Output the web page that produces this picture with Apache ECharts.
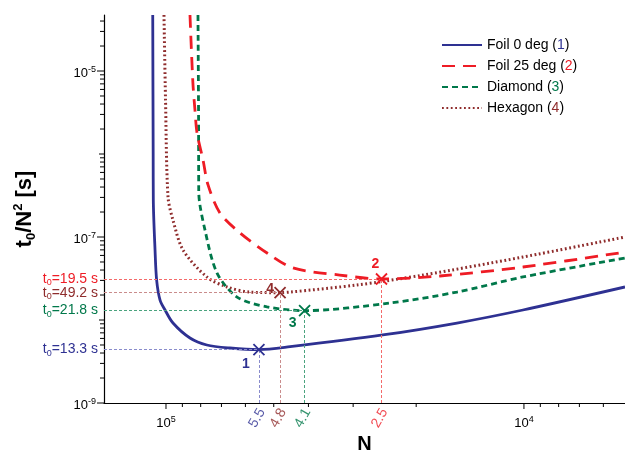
<!DOCTYPE html>
<html>
<head>
<meta charset="utf-8">
<script src="https://cdn.jsdelivr.net/npm/echarts@6/dist/echarts.min.js"></script>
<style>
html, body { margin: 0; padding: 0; background: #fff; }
#main { width: 625px; height: 453px; }
</style>
</head>
<body>
<div id="main"></div>
<script>
// axis ranges
var N_MIN = 5.22e3, N_MAX = 1.49e5;
var T_MIN = 1e-9, T_MAX = 4.73e-5;

// curves, [N, t0/N^2]
var foil0 = [[1.089e5, 4.73e-5], [1.086e5, 1.0e-6], [1.085e5, 2.8e-7], [1.073e5, 6.97e-8], [1.062e5, 3.03e-8],
    [1.039e5, 1.74e-8], [1.006e5, 1.32e-8], [9.56e4, 9.2e-9], [8.57e4, 6.07e-9], [7.69e4, 5.0e-9],
    [6.63e4, 4.6e-9], [5.5e4, 4.40e-9], [4.50e4, 4.77e-9], [2.48e4, 6.6e-9], [1.539e4, 9.2e-9],
    [1.0065e4, 1.32e-8], [5.22e3, 2.50e-8]];
var foil25 = [[8.57e4, 4.73e-5], [8.41e4, 7.16e-6], [8.30e4, 3.39e-6], [8.19e4, 1.79e-6], [7.88e4, 8.47e-7],
    [7.63e4, 4.24e-7], [7.07e4, 1.95e-7], [6.21e4, 1.12e-7], [5.22e4, 6.41e-8], [4.42e4, 4.24e-8],
    [3.27e4, 3.48e-8], [2.5e4, 3.12e-8], [1.717e4, 3.39e-8], [1.0065e4, 4.35e-8], [5.22e3, 6.59e-8]];
var diamond = [[8.14e4, 4.73e-5], [8.11e4, 3.0e-6], [8.10e4, 3.5e-7], [7.78e4, 1.21e-7], [7.20e4, 3.68e-8],
    [6.33e4, 1.89e-8], [5.22e4, 1.44e-8], [4.1e4, 1.297e-8], [2.37e4, 1.60e-8], [1.539e4, 2.17e-8],
    [1.0065e4, 3.30e-8], [5.22e3, 5.58e-8]];
var hexagon = [[1.013e5, 4.73e-5], [1.003e5, 4.48e-6], [9.87e4, 3.03e-7], [9.56e4, 1.60e-7], [8.96e4, 6.97e-8],
    [7.69e4, 3.30e-8], [6.75e4, 2.50e-8], [5.83e4, 2.17e-8], [4.8e4, 2.135e-8], [4.50e4, 2.17e-8],
    [2.93e4, 2.64e-8], [1.915e4, 3.48e-8], [1.0065e4, 5.74e-8], [5.22e3, 1.0e-7]];

// optimum of each curve, in the order foil0, foil25, diamond, hexagon
var seriesNames = ['Foil 0 deg', 'Foil 25 deg', 'Diamond', 'Hexagon'];
var optN = [5.5e4, 2.5e4, 4.1e4, 4.8e4];
var optT = [4.40e-9, 3.12e-8, 1.297e-8, 2.135e-8];
var optT0 = ['13.3', '19.5', '21.8', '49.2'];
var optNLabel = ['5.5', '2.5', '4.1', '4.8'];

// tick values
var xMajorTicks = [1e4, 1e5];
var xMinorTicks = [6e3, 7e3, 8e3, 9e3, 2e4, 3e4, 4e4, 5e4, 6e4, 7e4, 8e4, 9e4];
var yMajorTicks = [1e-9, 1e-7, 1e-5];
var yMidTicks = [1e-8, 1e-6];
var yMantissa = [2, 3, 4, 5, 6, 7, 8, 9];
var yDecades = [1e-9, 1e-8, 1e-7, 1e-6, 1e-5];

var colors = ['#2e3192', '#ee1c25', '#00784a', '#8f2c2c'];
var guideColors = ['#8a8ccc', '#f36a6a', '#4aa37e', '#c98c8c'];
var FONT = 'Liberation Sans, Arial, sans-serif';

var yMinorTicks = [];
yDecades.forEach(function (d) {
    yMantissa.forEach(function (m) {
        if (m * d <= T_MAX) yMinorTicks.push(m * d);
    });
});

function powLabel(v, onlyOdd) {
    var l = Math.log10(v), e = Math.round(l);
    if (Math.abs(l - e) > 1e-6) return '';
    if (onlyOdd && e % 2 === 0) return '';
    return '{b|10}{s|' + e + '}';
}

var powRich = {
    b: { fontSize: 13, color: '#000', fontFamily: FONT, lineHeight: 16 },
    s: { fontSize: 9, color: '#000', fontFamily: FONT, verticalAlign: 'top', lineHeight: 10, padding: [0, 0, 6, 0] }
};

function tickSeries(values, onX, len) {
    return {
        type: 'custom',
        silent: true,
        clip: false,
        data: values.map(function (v) { return onX ? [v, T_MIN] : [N_MAX, v]; }),
        renderItem: function (params, api) {
            var p = api.coord([api.value(0), api.value(1)]);
            return {
                type: 'line',
                shape: onX ? { x1: p[0], y1: p[1], x2: p[0], y2: p[1] + len }
                           : { x1: p[0], y1: p[1], x2: p[0] - len, y2: p[1] },
                style: { stroke: '#000', lineWidth: 1 }
            };
        }
    };
}

function curveSeries(i, data, width, lineType, labelOffset) {
    return {
        name: seriesNames[i],
        type: 'line',
        data: data,
        symbol: 'none',
        smooth: 0.3,
        silent: true,
        lineStyle: { color: colors[i], width: width, type: lineType },
        itemStyle: { color: colors[i] },
        markLine: {
            silent: true,
            symbol: 'none',
            lineStyle: { color: guideColors[i], width: 1, type: [3, 2] },
            label: {
                show: true,
                position: 'start',
                distance: 6,
                formatter: '{t|t}{u|0}{t|=' + optT0[i] + ' s}',
                rich: {
                    t: { fontSize: 14, color: colors[i], fontFamily: FONT, lineHeight: 16 },
                    u: { fontSize: 9, color: colors[i], fontFamily: FONT, verticalAlign: 'bottom', lineHeight: 10, padding: [6, 0, 0, 0] }
                }
            },
            data: [
                [{ coord: [N_MAX, optT[i]] }, { coord: [optN[i], optT[i]] }],
                [{ coord: [optN[i], T_MIN], label: { show: false } }, { coord: [optN[i], optT[i]], label: { show: false } }]
            ]
        },
        markPoint: {
            silent: true,
            symbol: 'path://M0,0L10,10M10,0L0,10',
            symbolSize: 11,
            itemStyle: { color: 'rgba(0,0,0,0)', borderColor: colors[i], borderWidth: 1.8 },
            label: {
                show: true,
                position: 'inside',
                offset: labelOffset,
                formatter: String(i + 1),
                color: colors[i],
                fontSize: 14,
                fontWeight: 'bold',
                fontFamily: FONT
            },
            data: [{ coord: [optN[i], optT[i]] }]
        }
    };
}

var legendRich = { base: { fontSize: 14, color: '#000', fontFamily: FONT } };
colors.forEach(function (c, i) {
    legendRich['c' + i] = { fontSize: 14, color: c, fontFamily: FONT };
});

var myChart = echarts.init(document.getElementById('main'));
var option = {
    animation: false,
    textStyle: { fontFamily: FONT },
    grid: { left: 104, right: 0, top: 15, bottom: 50, outerBoundsMode: 'none', containLabel: false },
    legend: {
        orient: 'vertical',
        left: 441,
        top: 38,
        padding: 0,
        itemWidth: 40,
        itemHeight: 14,
        itemGap: 7,
        data: seriesNames,
        itemStyle: { opacity: 0 },
        formatter: function (name) {
            var i = seriesNames.indexOf(name);
            return '{base|' + name + ' (}{c' + i + '|' + (i + 1) + '}{base|)}';
        },
        textStyle: { fontSize: 14, color: '#000', rich: legendRich }
    },
    xAxis: {
        type: 'log',
        logBase: 10,
        inverse: true,
        min: N_MIN,
        max: N_MAX,
        name: 'N',
        nameLocation: 'middle',
        nameGap: 30,
        nameTextStyle: { fontSize: 20, fontWeight: 'bold', color: '#000', verticalAlign: 'top' },
        axisLine: { show: true, lineStyle: { color: '#000', width: 1.2 } },
        axisTick: { show: false },
        splitLine: { show: false },
        axisLabel: {
            margin: 12,
            formatter: function (v) { return powLabel(v, false); },
            rich: powRich
        }
    },
    yAxis: {
        type: 'log',
        logBase: 10,
        min: T_MIN,
        max: T_MAX,
        name: '{b|t}{u|0}{b|/N}{p|2}{b| [s]}',
        nameLocation: 'middle',
        nameGap: 66,
        nameRotate: 90,
        nameTextStyle: {
            rich: {
                b: { fontSize: 22, fontWeight: 'bold', color: '#000', fontFamily: FONT, lineHeight: 26 },
                u: { fontSize: 13, fontWeight: 'bold', color: '#000', fontFamily: FONT, verticalAlign: 'bottom', lineHeight: 13, padding: [8, 0, 0, 0] },
                p: { fontSize: 13, fontWeight: 'bold', color: '#000', fontFamily: FONT, verticalAlign: 'top', lineHeight: 13, padding: [0, 0, 8, 0] }
            }
        },
        axisLine: { show: true, lineStyle: { color: '#000', width: 1.2 } },
        axisTick: { show: false },
        splitLine: { show: false },
        axisLabel: {
            margin: 8,
            padding: [4, 0, 0, 0],
            formatter: function (v) { return powLabel(v, true); },
            rich: powRich
        }
    },
    series: [
        tickSeries(xMajorTicks, true, 6),
        tickSeries(xMinorTicks, true, 4),
        tickSeries(yMajorTicks, false, 7),
        tickSeries(yMidTicks, false, 5),
        tickSeries(yMinorTicks, false, 4),
        curveSeries(3, hexagon, 3, [1.8, 2.6], [-10, -4]),
        curveSeries(2, diamond, 2.8, [6, 4], [-12, 13]),
        curveSeries(1, foil25, 2.8, [13, 8], [-6, -15]),
        curveSeries(0, foil0, 2.8, 'solid', [-13, 15]),
        {
            type: 'scatter',
            silent: true,
            symbolSize: 0,
            data: optN.map(function (n, i) {
                return { value: [n, T_MIN], label: { color: colors[i] } };
            }),
            label: {
                show: true,
                position: 'inside',
                offset: [-14, 6],
                rotate: 60,
                fontSize: 14,
                fontFamily: FONT,
                formatter: function (p) { return optNLabel[p.dataIndex]; }
            }
        }
    ]
};
myChart.setOption(option);
</script>
</body>
</html>
